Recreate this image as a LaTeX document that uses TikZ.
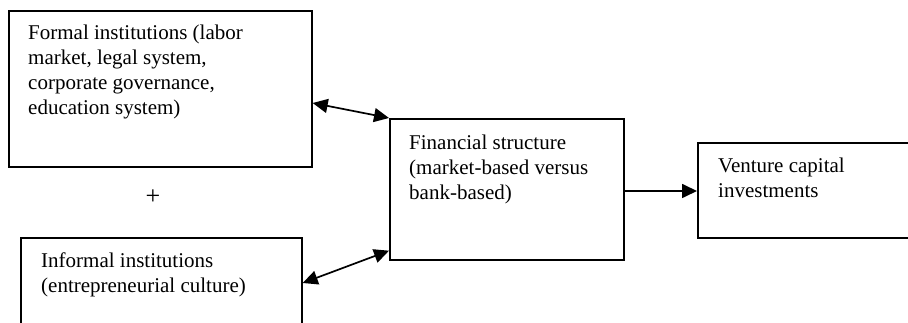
\documentclass[tikz,border=0pt]{standalone}
\usepackage{fontspec}
\setmainfont{Liberation Serif}
\usetikzlibrary{arrows.meta,calc}

\tikzset{
  box/.style={draw, line width=1.7pt, rectangle, inner sep=0pt, anchor=north west},
  boxtext/.style={anchor=north west, inner sep=0pt, align=left,
    font=\fontsize{21}{25}\selectfont},
  link/.style={line width=1.7pt, -{Triangle[length=15pt,width=14pt]}},
  biglink/.style={line width=1.7pt, {Triangle[length=15pt,width=14pt]}-{Triangle[length=15pt,width=14pt]}}
}

\begin{document}
\begin{tikzpicture}[x=1pt,y=-1pt]
  \useasboundingbox (0,0) rectangle (908,323);
  \clip (0,0) rectangle (908,323);

  % boxes
  \node[box, minimum width=303pt, minimum height=156pt] (formal) at (8,10) {};
  \node[box, minimum width=281pt, minimum height=110pt] (informal) at (20,237) {};
  \node[box, minimum width=234pt, minimum height=141pt] (fin) at (389,118) {};
  \node[box, minimum width=220pt, minimum height=95pt] (vc) at (697,142) {};

  % texts (top of each first line is its baseline minus the strut height)
  \node[boxtext] (formaltxt) at (28,21.5) {\strut Formal institutions (labor\\market, legal system,\\corporate governance,\\education system)};
  \node[boxtext] (informaltxt) at (41,249.5) {\strut Informal institutions\\(entrepreneurial culture)};
  \node[boxtext] (fintxt) at (409,131.5) {\strut Financial structure\\(market-based versus\\bank-based)};
  \node[boxtext] (vctxt) at (718,154.5) {\strut Venture capital\\investments};
  \node[inner sep=0pt, font=\fontsize{26}{26}\selectfont] (plus) at (153,197) {+};

  % connectors
  \coordinate (a1) at ($(formal.north east)+(0,93)$);
  \coordinate (a2) at ($(informal.north east)+(0,46)$);
  \coordinate (b2) at ($(fin.south west)+(0,-10)$);
  \draw[biglink] (a1) -- (fin.north west);
  \draw[biglink] (a2) -- (b2);
  \draw[link] (fin.east |- 0,191) -- (vc.west |- 0,191);
\end{tikzpicture}
\end{document}
